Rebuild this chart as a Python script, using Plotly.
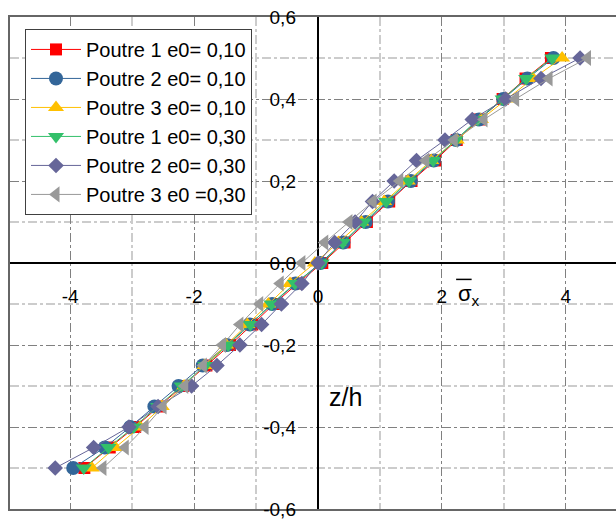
import plotly.graph_objects as go

# ---------------- data ----------------
z_h = [0.5, 0.45, 0.4, 0.35, 0.3, 0.25, 0.2, 0.15, 0.1, 0.05, 0.0,
       -0.05, -0.1, -0.15, -0.2, -0.25, -0.3, -0.35, -0.4, -0.45, -0.5]

p1_e010 = [3.76, 3.35, 2.98, 2.60, 2.24, 1.89, 1.51, 1.15, 0.79, 0.43, 0.07,
           -0.33, -0.71, -1.06, -1.42, -1.80, -2.18, -2.56, -2.95, -3.36, -3.77]
p2_e010 = [3.80, 3.38, 2.99, 2.60, 2.23, 1.87, 1.50, 1.13, 0.77, 0.41, 0.04,
           -0.36, -0.74, -1.10, -1.47, -1.86, -2.25, -2.64, -3.03, -3.44, -3.95]
p3_e010 = [3.94, 3.47, 3.05, 2.63, 2.24, 1.83, 1.45, 1.07, 0.70, 0.33, -0.05,
           -0.45, -0.80, -1.14, -1.48, -1.83, -2.16, -2.52, -2.87, -3.27, -3.65]
p1_e030 = [3.78, 3.36, 2.98, 2.58, 2.22, 1.86, 1.47, 1.10, 0.74, 0.40, 0.06,
           -0.37, -0.75, -1.09, -1.45, -1.82, -2.20, -2.58, -2.97, -3.38, -3.78]
p2_e030 = [4.23, 3.60, 3.03, 2.49, 2.05, 1.59, 1.23, 0.88, 0.60, 0.27, 0.00,
           -0.26, -0.59, -0.91, -1.26, -1.63, -2.04, -2.58, -3.05, -3.62, -4.24]
p3_e030 = [4.35, 3.73, 3.19, 2.68, 2.20, 1.74, 1.32, 0.89, 0.50, 0.11, -0.26,
           -0.61, -0.94, -1.26, -1.54, -1.85, -2.15, -2.50, -2.79, -3.11, -3.47]

series_names = ["Poutre 1 e0= 0,10", "Poutre 2 e0= 0,10", "Poutre 3 e0= 0,10",
                "Poutre 1 e0= 0,30", "Poutre 2 e0= 0,30", "Poutre 3 e0 =0,30"]
series_values = [p1_e010, p2_e010, p3_e010, p1_e030, p2_e030, p3_e030]

x_tickvals = [-4, -2, 0, 2, 4]
x_ticktext = ["-4", "-2", "0", "2", "4"]
y_tickvals = [-0.6, -0.4, -0.2, 0.0, 0.2, 0.4, 0.6]
y_ticktext = ["-0,6", "-0,4", "-0,2", "0,0", "0,2", "0,4", "0,6"]

# ---------------- styles ----------------
colors = ["#FF0000", "#336699", "#FFC000", "#33C06A", "#666699", "#999999"]
symbols = ["square", "circle", "triangle-up", "triangle-down", "diamond", "triangle-left"]
sizes = [12, 14, 14, 14, 12, 14]

FONT = "Liberation Sans, Arial, sans-serif"
x_range = [-4.97, 4.81]
y_range = [-0.6, 0.6]

fig = go.Figure()
for name, vals, c, s, sz in zip(series_names, series_values, colors, symbols, sizes):
    fig.add_trace(go.Scatter(
        x=vals, y=z_h, name=name, mode="lines+markers",
        line=dict(color=c, width=1),
        marker=dict(symbol=s, size=sz, color=c, line=dict(width=0)),
    ))

# invisible trace to hold the centred tick-label axes
fig.add_trace(go.Scatter(x=[0], y=[0], xaxis="x2", yaxis="y2", mode="markers",
                         marker=dict(opacity=0), showlegend=False, hoverinfo="skip"))

x0_frac = (0 - x_range[0]) / (x_range[1] - x_range[0])

fig.update_layout(
    width=616, height=520,
    margin=dict(l=10, r=0, t=17, b=8),
    paper_bgcolor="white", plot_bgcolor="white",
    font=dict(family=FONT, size=19, color="black"),
    showlegend=True,
    legend=dict(
        x=(25 - 10) / 606, y=(512 - 29) / 495, xanchor="left", yanchor="top",
        bgcolor="white", bordercolor="#404040", borderwidth=1,
        font=dict(family=FONT, size=20, color="black"),
        itemwidth=50, tracegroupgap=0,
    ),
    xaxis=dict(
        range=x_range, domain=[0, 1],
        showticklabels=False, ticks="",
        tick0=0, dtick=2,
        showgrid=True, gridcolor="#808080", gridwidth=1, griddash="dashdot",
        minor=dict(dtick=1, showgrid=True, gridcolor="#cccccc", gridwidth=1.5),
        zeroline=True, zerolinecolor="black", zerolinewidth=2,
        showline=True, linecolor="#666666", linewidth=1.5, mirror=True,
    ),
    yaxis=dict(
        range=y_range, domain=[0, 1],
        showticklabels=False, ticks="",
        tick0=0, dtick=0.2,
        showgrid=True, gridcolor="#808080", gridwidth=1, griddash="dashdot",
        minor=dict(dtick=0.1, showgrid=True, gridcolor="#cccccc", gridwidth=1.5),
        zeroline=True, zerolinecolor="black", zerolinewidth=2,
        showline=True, linecolor="#666666", linewidth=1.5, mirror=False,
    ),
    xaxis2=dict(
        range=x_range, overlaying="x", anchor="free", position=0.5,
        tickmode="array", tickvals=x_tickvals, ticktext=x_ticktext,
        ticks="", showgrid=False, zeroline=False, showline=False,
        ticklabelstandoff=20, tickfont=dict(size=19), ticklabeloverflow="allow",
    ),
    yaxis2=dict(
        range=y_range, overlaying="y", anchor="free", position=x0_frac, side="left",
        tickmode="array", tickvals=y_tickvals, ticktext=y_ticktext,
        ticks="", showgrid=False, zeroline=False, showline=False,
        ticklabelstandoff=22, tickfont=dict(size=19), ticklabeloverflow="allow",
    ),
    annotations=[
        dict(x=0.44, y=-0.328, xref="x", yref="y", text="z/h", showarrow=False,
             font=dict(size=25), xanchor="center", yanchor="middle"),
        dict(x=2.22, y=-0.079, xref="x", yref="y", text="σ<sub>x</sub>", showarrow=False,
             font=dict(size=22), xanchor="left", yanchor="middle"),
    ],
    shapes=[
        dict(type="line", xref="x", yref="y", x0=2.23, x1=2.48, y0=-0.040, y1=-0.040,
             line=dict(color="black", width=1.5)),
    ],
)

fig.write_html("out.html", config={"displayModeBar": False},
               post_script="document.body.style.margin='0px';")
